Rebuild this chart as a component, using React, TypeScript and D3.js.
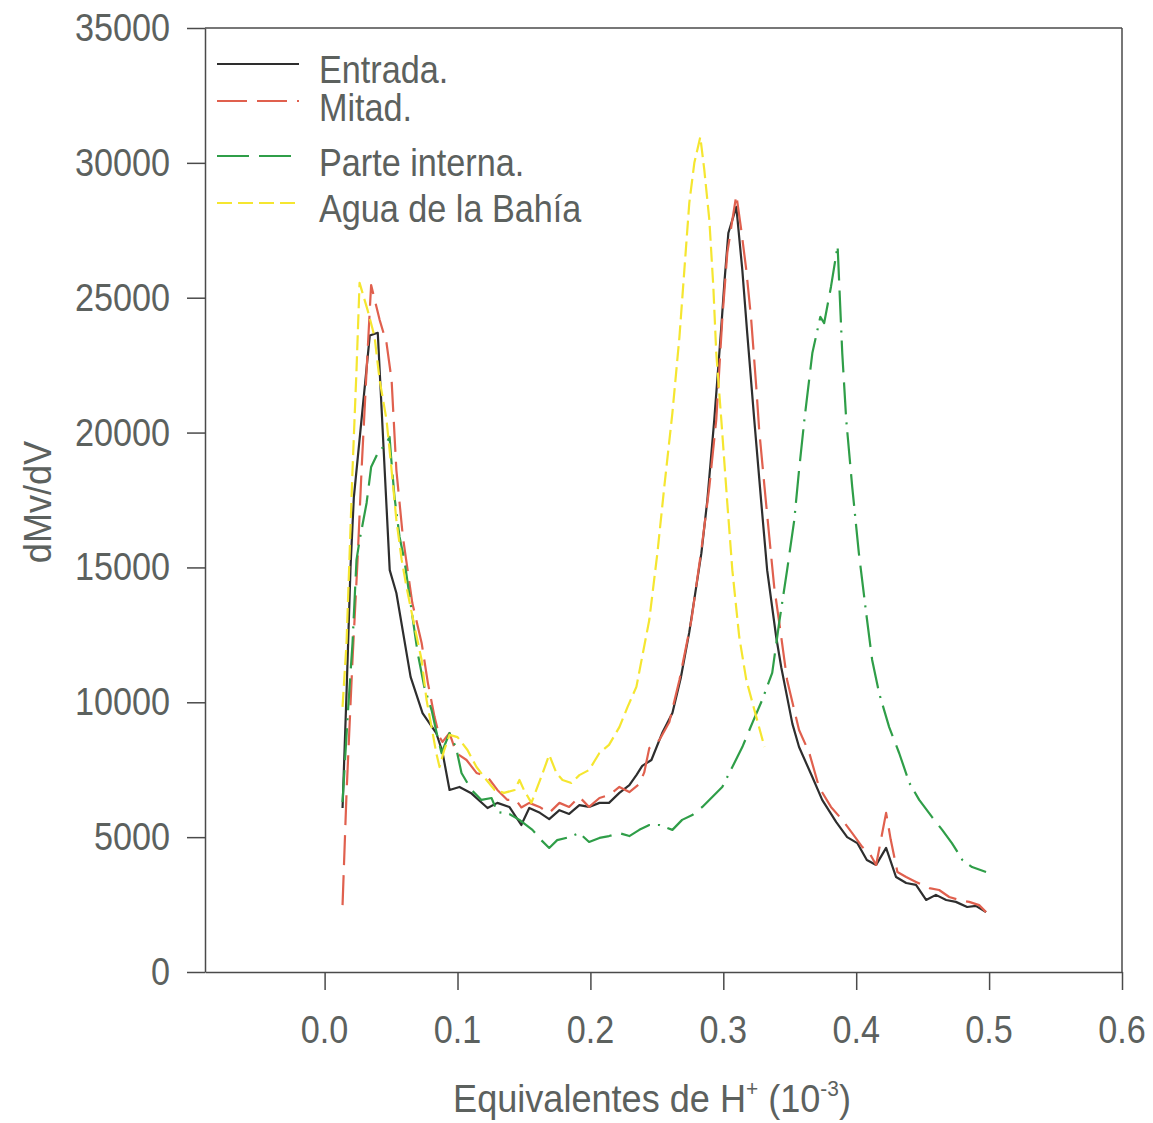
import React, { useEffect, useRef } from 'react';
import * as d3 from 'd3';

const W = 1153;
const H = 1123;

const xTicks = [0, 0.1, 0.2, 0.3, 0.4, 0.5, 0.6];
const xTickLabels = ['0.0', '0.1', '0.2', '0.3', '0.4', '0.5', '0.6'];
const yTicks = [0, 5000, 10000, 15000, 20000, 25000, 30000, 35000];
const seriesNames = ['Entrada.', 'Mitad.', 'Parte interna.', 'Agua de la Bahía'];

const entrada: [number, number][] = [
  [0.0135, 6080], [0.0165, 10340], [0.0195, 15000], [0.022, 17600], [0.0285, 20840], [0.034, 23600],
  [0.040, 23700], [0.049, 14900], [0.054, 14050], [0.0647, 10940], [0.0737, 9600], [0.084, 8860],
  [0.0887, 8150], [0.094, 6750], [0.1015, 6860], [0.11, 6640], [0.1226, 6080], [0.130, 6270],
  [0.139, 6120], [0.148, 5450], [0.154, 6080], [0.162, 5900], [0.169, 5670], [0.1767, 6000],
  [0.184, 5860], [0.1917, 6190], [0.199, 6120], [0.2068, 6270], [0.214, 6270], [0.2218, 6640],
  [0.2293, 6930], [0.2346, 7300], [0.239, 7640], [0.2459, 7860], [0.254, 8860], [0.2617, 9600],
  [0.268, 10900], [0.2744, 12600], [0.2835, 15530], [0.288, 17500], [0.2932, 20470], [0.2985, 23920],
  [0.3008, 25550], [0.3038, 27400], [0.3098, 28370], [0.3143, 26030], [0.318, 23690], [0.3233, 20470],
  [0.3286, 17390], [0.333, 14900], [0.3398, 12420], [0.3436, 11300], [0.352, 9200], [0.357, 8340],
  [0.367, 7230], [0.3744, 6380], [0.385, 5560], [0.3932, 5000], [0.4008, 4780], [0.408, 4150],
  [0.415, 3970], [0.4225, 4600], [0.43, 3520], [0.4376, 3300], [0.445, 3230], [0.4526, 2670],
  [0.46, 2860], [0.4677, 2670], [0.475, 2600], [0.4835, 2410], [0.49, 2450], [0.4977, 2220],
];

const mitad: [number, number][] = [
  [0.0135, 2480], [0.0165, 6640], [0.021, 11570], [0.0248, 15280], [0.0278, 18610], [0.0316, 22320],
  [0.035, 25470], [0.0414, 24180], [0.0466, 23320], [0.0504, 21950], [0.054, 18610], [0.0589, 16130],
  [0.066, 13680], [0.073, 12200], [0.0777, 10720], [0.0827, 9460], [0.0865, 8710], [0.0887, 8530],
  [0.094, 8860], [0.099, 8120], [0.1068, 7860], [0.1143, 7380], [0.1226, 7230], [0.130, 6750],
  [0.1376, 6380], [0.144, 6380], [0.148, 6100], [0.154, 6270], [0.1617, 6120], [0.169, 5900],
  [0.1767, 6270], [0.184, 6120], [0.1917, 6490], [0.199, 6120], [0.2068, 6450], [0.214, 6560],
  [0.2218, 6860], [0.2293, 6670], [0.2368, 6970], [0.2405, 7400], [0.2443, 8300], [0.2519, 8600],
  [0.2594, 9270], [0.267, 10830], [0.276, 13050], [0.2835, 15650], [0.2895, 17990], [0.2947, 20470],
  [0.2992, 24180], [0.303, 26660], [0.3068, 27880], [0.3098, 28810], [0.3135, 27510], [0.3173, 26030],
  [0.321, 24180], [0.3248, 21690], [0.327, 20100], [0.331, 17990], [0.3346, 16130], [0.3383, 14280],
  [0.3436, 12420], [0.348, 10830], [0.352, 10000], [0.357, 8970], [0.3647, 8120], [0.372, 6860],
  [0.381, 6120], [0.3895, 5640], [0.397, 5150], [0.4045, 4640], [0.41, 4410], [0.415, 3970],
  [0.419, 5000], [0.4225, 5900], [0.426, 4900], [0.431, 3710], [0.4376, 3520], [0.445, 3340],
  [0.455, 3110], [0.4624, 3040], [0.47, 2780], [0.4774, 2670], [0.485, 2600], [0.4925, 2480],
  [0.4977, 2220],
];

const parteInterna: [number, number][] = [
  [0.0135, 6300], [0.0173, 9460], [0.021, 12200], [0.024, 15280], [0.0263, 16000], [0.0316, 17390],
  [0.035, 18720], [0.04, 19240], [0.0466, 19610], [0.0489, 19840], [0.050, 19100], [0.0526, 17610],
  [0.0564, 16130], [0.060, 15280], [0.0654, 13420], [0.07, 11830], [0.075, 10570], [0.0805, 9710],
  [0.085, 8710], [0.088, 8120], [0.094, 8860], [0.099, 8300], [0.103, 7380], [0.1105, 6750],
  [0.118, 6380], [0.1256, 6450], [0.13, 5930], [0.139, 5860], [0.1466, 5640], [0.1564, 5270],
  [0.163, 4890], [0.169, 4600], [0.175, 4890], [0.184, 5000], [0.1917, 5150], [0.199, 4820],
  [0.2068, 4970], [0.214, 5040], [0.2218, 5150], [0.2293, 5040], [0.2368, 5270], [0.2443, 5450],
  [0.2519, 5450], [0.2617, 5270], [0.269, 5640], [0.2767, 5820], [0.2842, 6120], [0.2917, 6490],
  [0.2992, 6860], [0.3068, 7600], [0.3143, 8340], [0.3218, 9230], [0.3293, 10090], [0.3368, 11090],
  [0.342, 12940], [0.348, 14900], [0.3534, 16760], [0.357, 18610], [0.361, 20470], [0.367, 22950],
  [0.373, 24290], [0.3759, 24060], [0.381, 25400], [0.386, 26920], [0.3895, 22950], [0.3925, 20470],
  [0.397, 17990], [0.402, 15530], [0.4075, 13310], [0.412, 11570], [0.4173, 10330], [0.4248, 9080],
  [0.4323, 8120], [0.44, 7010], [0.4474, 6380], [0.457, 5750], [0.4647, 5270], [0.472, 4780],
  [0.48, 4150], [0.4872, 3890], [0.4977, 3710],
];

const aguaBahia: [number, number][] = [
  [0.0135, 9830], [0.0165, 12200], [0.021, 18610], [0.024, 22320], [0.0263, 25550], [0.0323, 24550],
  [0.0376, 23550], [0.0414, 21950], [0.0466, 20470], [0.0504, 18610], [0.054, 16760], [0.058, 15280],
  [0.0616, 14280], [0.0677, 12800], [0.073, 11570], [0.0767, 10090], [0.0805, 9080], [0.084, 8120],
  [0.0865, 7600], [0.09, 8230], [0.094, 8790], [0.1, 8710], [0.1075, 8230], [0.1143, 7600],
  [0.12, 7230], [0.128, 6750], [0.135, 6640], [0.143, 6750], [0.1466, 7120], [0.150, 6750],
  [0.1556, 6270], [0.163, 7230], [0.169, 8050], [0.1744, 7380], [0.179, 7120], [0.1857, 7010],
  [0.1917, 7300], [0.199, 7490], [0.2068, 8120], [0.214, 8420], [0.2218, 9080], [0.228, 9830],
  [0.2346, 10570], [0.2443, 13050], [0.2504, 15530], [0.2556, 17990], [0.2617, 20730], [0.267, 23550],
  [0.2707, 26030], [0.2744, 28510], [0.2782, 30000], [0.2827, 30960], [0.2857, 29740], [0.2895, 27880],
  [0.2925, 25400], [0.2947, 22950], [0.2985, 20470], [0.303, 17390], [0.3068, 14900], [0.312, 12420],
  [0.3173, 10830], [0.3248, 9460], [0.331, 8340],
];

const seriesData = [entrada, mitad, parteInterna, aguaBahia];
const seriesColors = ['#2e2e2e', '#e0604e', '#2f9e48', '#f5e630'];
const seriesDash = ['none', '30,10', '32,10,32,8,2,8', '15,6'];

const FONT = '"Liberation Sans", Arial, sans-serif';
const TEXT_COLOR = '#5c615e';
const AXIS_COLOR = '#4a4a4a';
const FS = 38;
const SX = 0.9;

export default function App() {
  const ref = useRef<SVGSVGElement>(null);

  useEffect(() => {
    const svg = d3.select(ref.current);
    svg.selectAll('*').remove();

    const left = 205, right = 1122, top = 28, bottom = 972;
    const x = d3.scaleLinear().domain([-0.09, 0.6]).range([left, right]);
    const y = d3.scaleLinear().domain([0, 35000]).range([bottom, top]);

    const label = (tx: number, ty: number, s: string, anchor: string, sx = SX, fs = FS, rot = 0) =>
      svg.append('text')
        .attr('transform', `translate(${tx},${ty}) rotate(${rot}) scale(${sx},1)`)
        .attr('text-anchor', anchor).attr('font-family', FONT).attr('font-size', fs)
        .attr('fill', TEXT_COLOR).text(s);

    // frame (top, right)
    svg.append('line').attr('x1', left).attr('x2', right).attr('y1', top).attr('y2', top)
      .attr('stroke', AXIS_COLOR).attr('stroke-width', 1.5);
    svg.append('line').attr('x1', right).attr('x2', right).attr('y1', top).attr('y2', bottom)
      .attr('stroke', AXIS_COLOR).attr('stroke-width', 1.5);

    // left axis
    const yAxis = svg.append('g').attr('transform', `translate(${left},0)`)
      .call(d3.axisLeft(y).tickValues(yTicks).tickSize(18).tickSizeOuter(0).tickFormat(() => ''));
    yAxis.select('.domain').attr('stroke', AXIS_COLOR).attr('stroke-width', 1.5);
    yAxis.selectAll('.tick line').attr('stroke', AXIS_COLOR).attr('stroke-width', 1.5);
    yTicks.forEach(v => label(170, y(v) + 13, d3.format('d')(v), 'end'));

    // bottom axis
    const xAxis = svg.append('g').attr('transform', `translate(0,${bottom})`)
      .call(d3.axisBottom(x).tickValues(xTicks).tickSize(18).tickSizeOuter(0).tickFormat(() => ''));
    xAxis.select('.domain').attr('stroke', AXIS_COLOR).attr('stroke-width', 1.5);
    xAxis.selectAll('.tick line').attr('stroke', AXIS_COLOR).attr('stroke-width', 1.5);
    xTicks.forEach((v, i) => label(x(v), 1043, xTickLabels[i], 'middle'));

    // axis titles
    label(51, 502, 'dMv/dV', 'middle', 0.95, FS, -90);

    const xt = svg.append('text')
      .attr('transform', `translate(652,1112) scale(0.95,1)`)
      .attr('text-anchor', 'middle').attr('font-family', FONT).attr('font-size', FS)
      .attr('fill', TEXT_COLOR);
    xt.append('tspan').text('Equivalentes de H');
    xt.append('tspan').attr('font-size', 22).attr('dy', -16).text('+');
    xt.append('tspan').attr('dy', 16).text(' (10');
    xt.append('tspan').attr('font-size', 22).attr('dy', -16).text('-3');
    xt.append('tspan').attr('dy', 16).text(')');

    // lines
    const line = d3.line<[number, number]>().x(d => x(d[0])).y(d => y(d[1]));
    seriesData.forEach((data, i) => {
      svg.append('path').datum(data).attr('d', line)
        .attr('fill', 'none').attr('stroke', seriesColors[i]).attr('stroke-width', 2.2)
        .attr('stroke-dasharray', seriesDash[i]).attr('stroke-linejoin', 'round');
    });

    // legend
    const legendRows = [
      { lineY: 64, textY: 83 },
      { lineY: 101, textY: 121 },
      { lineY: 156, textY: 176 },
      { lineY: 203, textY: 222 },
    ];
    legendRows.forEach((r, i) => {
      svg.append('line').attr('x1', 217).attr('x2', 299).attr('y1', r.lineY).attr('y2', r.lineY)
        .attr('stroke', seriesColors[i]).attr('stroke-width', 2)
        .attr('stroke-dasharray', seriesDash[i]);
      label(319, r.textY, seriesNames[i], 'start');
    });
  }, []);

  return (
    <svg ref={ref} width={W} height={H}
      style={{ position: 'absolute', left: 0, top: 0, background: '#fff' }} />
  );
}
